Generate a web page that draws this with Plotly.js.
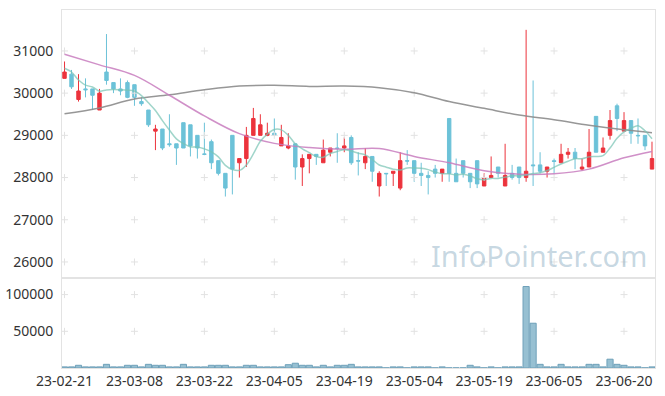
<!DOCTYPE html>
<html>
<head>
<meta charset="utf-8">
<script src="https://cdn.plot.ly/plotly-3.0.1.min.js"></script>
<style>
html,body{margin:0;padding:0;background:#fff;}
#chart{width:665px;height:396px;}
</style>
</head>
<body>
<div id="chart"></div>
<script>
const dates = ['23-02-21','23-02-22','23-02-23','23-02-24','23-02-27','23-02-28','23-03-02','23-03-03','23-03-06','23-03-07',
'23-03-08','23-03-09','23-03-10','23-03-13','23-03-14','23-03-15','23-03-16','23-03-17','23-03-20','23-03-21',
'23-03-22','23-03-23','23-03-24','23-03-27','23-03-28','23-03-29','23-03-30','23-03-31','23-04-03','23-04-04',
'23-04-05','23-04-06','23-04-07','23-04-10','23-04-11','23-04-12','23-04-13','23-04-14','23-04-17','23-04-18',
'23-04-19','23-04-20','23-04-21','23-04-24','23-04-25','23-04-26','23-04-27','23-04-28','23-05-02','23-05-03',
'23-05-04','23-05-08','23-05-09','23-05-10','23-05-11','23-05-12','23-05-15','23-05-16','23-05-17','23-05-18',
'23-05-19','23-05-22','23-05-23','23-05-24','23-05-25','23-05-26','23-05-30','23-05-31','23-06-01','23-06-02',
'23-06-05','23-06-07','23-06-08','23-06-09','23-06-12','23-06-13','23-06-14','23-06-15','23-06-16','23-06-19',
'23-06-20','23-06-21','23-06-22','23-06-23','23-06-26'];

const openP = [30350,30450,29850,30100,30100,29600,30500,30250,30100,30250,
30200,29800,29600,29100,29150,28800,28800,29300,29250,29000,
28560,28850,28400,28100,29000,28350,28450,29000,29000,29000,
29050,28750,28700,28800,28250,28450,28550,28350,28600,28700,
28700,28950,28400,28350,28500,27800,28100,28100,27750,28400,
28400,28100,28050,28200,28100,29400,28100,28400,28100,28400,
27800,28000,28250,27800,28100,28250,28000,28300,28300,28150,
28400,28350,28550,28600,28200,28250,29450,28600,29000,29700,
29100,29350,29000,29000,28200];

const highP = [30750,30550,30450,30350,30100,30100,31400,30250,30350,30300,
30200,29900,29600,29250,29150,29500,28800,29300,29250,29000,
29300,28900,28400,28100,29000,28450,29200,29650,29500,29300,
29400,29250,29050,28800,28550,28550,28550,28900,28700,29050,
28950,29000,28600,28700,28500,28150,28100,28150,28600,28650,
28400,28350,28150,28300,28200,29400,28450,28400,28100,28400,
28100,28500,28250,28800,28300,28250,31500,30300,28600,28250,
28450,28800,28700,28700,28450,29150,29450,28950,29600,29750,
29550,29350,29400,29000,28850];

const lowP = [30350,30100,29800,29900,29600,29600,30200,30000,29950,29880,
29700,29700,29200,28650,28650,28730,28300,28700,28500,28450,
28530,28200,28050,27550,27600,28000,28250,29000,29000,28980,
29000,28750,28670,27950,27800,28100,28300,28350,28500,28350,
28600,28300,28050,28200,27900,27550,27800,27800,27700,28300,
27900,27800,27600,28000,27900,27900,27900,28000,27750,27750,
27800,28000,28000,27800,27950,27850,27900,27800,28100,28000,
28100,28350,28450,28200,28170,28250,28600,28600,28900,29100,
29100,28800,28800,28650,28200];

const closeP = [30500,30150,30050,30080,29950,30000,30300,30100,30050,29900,
29900,29750,29250,29150,28700,28780,28700,28700,28750,28700,
28550,28350,28100,27750,28200,28450,29000,29400,29250,29050,
29000,28950,28750,28250,28450,28550,28500,28650,28700,28690,
28750,28350,28390,28500,28150,28100,28090,28150,28400,28390,
28100,28050,28000,28100,28200,28100,27900,28100,27900,27850,
28000,28050,28100,28050,28000,28000,28150,28280,28150,28250,
28380,28550,28600,28450,28250,28600,28600,28700,29350,29400,
29350,29050,28990,28750,28450];

const volume = [1500,1500,3700,1500,1500,1500,5000,1500,1500,3700,
3700,1500,5000,3700,3700,1500,1500,5000,1500,1500,
1500,3700,3700,3700,1500,1500,3700,3700,1500,1500,
1500,1500,4500,6500,3700,3700,1500,3700,1500,3700,
3700,5000,1500,1500,1500,1500,200,1500,1500,200,
1500,1500,1500,200,1500,200,200,200,3700,1500,
200,1500,200,1500,1500,1500,111000,61000,5000,1500,
1500,5000,1500,1500,1500,5000,5000,1500,12000,5000,
3700,1500,1500,200,1500];

const ma5 = [30590,30500,30310,30190,30146,30046,30076,30086,30080,30070,
30050,29940,29770,29590,29350,29126,28916,28806,28726,28726,
28680,28610,28490,28290,28190,28170,28300,28560,28860,29030,
29140,29130,29000,28800,28680,28590,28500,28480,28570,28618,
28658,28628,28576,28536,28428,28298,28246,28198,28178,28226,
28226,28218,28188,28128,28090,28090,28060,28080,28040,27970,
27950,27980,27980,28010,28040,28040,28060,28096,28116,28166,
28242,28322,28386,28446,28446,28490,28500,28520,28700,28930,
29080,29170,29228,29108,28918];

const maSampleDates = ['23-02-21','23-02-28','23-03-08','23-03-15','23-03-22','23-03-29','23-04-05','23-04-12','23-04-19',
'23-04-26','23-05-04','23-05-12','23-05-19','23-05-26','23-06-05','23-06-13','23-06-20','23-06-26'];
const ma20 = [30920,30670,30420,29950,29460,29040,28810,28710,28670,28690,28500,28350,28160,28080,28090,28200,28470,28620];
const ma60 = [29510,29650,29860,29960,30080,30170,30185,30160,30170,30130,30010,29800,29640,29480,29370,29240,29130,29060];

const xTickLabels = ['23-02-21','23-03-08','23-03-22','23-04-05','23-04-19','23-05-04','23-05-19','23-06-05','23-06-20'];
const priceTicks = [26000,27000,28000,29000,30000,31000];
const volTicks = [50000,100000];

const RED = '#ec333c', BLUE = '#6cc2d8';
const FONT = 'Noto Sans, sans-serif';

// grid crosses at tick intersections
const gx = [], gy = [], vx = [], vy = [];
xTickLabels.forEach(d => {
  priceTicks.forEach(p => { gx.push(d); gy.push(p); });
  volTicks.forEach(v => { vx.push(d); vy.push(v); });
});

const crossMarker = {symbol: 'cross-thin', size: 5, line: {color: '#e2e2e2', width: 1}};

const traces = [
  {
    type: 'candlestick', x: dates, open: openP, high: highP, low: lowP, close: closeP,
    xaxis: 'x', yaxis: 'y',
    increasing: {line: {color: RED, width: 1}, fillcolor: RED},
    decreasing: {line: {color: BLUE, width: 1}, fillcolor: BLUE},
    whiskerwidth: 0, hoverinfo: 'skip', showlegend: false
  },
  {
    type: 'scatter', mode: 'markers', x: gx, y: gy, xaxis: 'x', yaxis: 'y',
    marker: crossMarker, hoverinfo: 'skip', showlegend: false
  },
  {
    type: 'scatter', mode: 'lines', x: maSampleDates, y: ma60, xaxis: 'x', yaxis: 'y',
    line: {color: 'rgba(140,140,140,0.9)', width: 1.5, shape: 'spline'}, hoverinfo: 'skip', showlegend: false
  },
  {
    type: 'scatter', mode: 'lines', x: maSampleDates, y: ma20, xaxis: 'x', yaxis: 'y',
    line: {color: 'rgba(200,125,190,0.85)', width: 1.5, shape: 'spline'}, hoverinfo: 'skip', showlegend: false
  },
  {
    type: 'scatter', mode: 'lines', x: dates, y: ma5, xaxis: 'x', yaxis: 'y',
    line: {color: 'rgba(120,195,180,0.7)', width: 1.5, shape: 'spline'}, hoverinfo: 'skip', showlegend: false
  },
  {
    type: 'scatter', mode: 'markers', x: vx, y: vy, xaxis: 'x2', yaxis: 'y2',
    marker: crossMarker, hoverinfo: 'skip', showlegend: false
  },
  {
    type: 'bar', x: dates, y: volume, xaxis: 'x2', yaxis: 'y2',
    marker: {color: 'rgba(140,185,205,0.9)', line: {color: 'rgba(110,160,185,1)', width: 1}},
    hoverinfo: 'skip', showlegend: false
  }
];

const xRange = [-0.36, 84.43];
const axisLine = '#e3e3e3';
const TICKFONT = {family: FONT, size: 14, color: '#333'};
const layout = {
  width: 665, height: 396,
  margin: {l: 61.5, r: 10, t: 10, b: 28},
  paper_bgcolor: '#fff', plot_bgcolor: '#fff',
  showlegend: false,
  bargap: 0.12,
  font: {family: FONT, size: 14, color: '#333'},
  xaxis: {
    type: 'category', categoryorder: 'array', categoryarray: dates,
    range: xRange, anchor: 'y', showticklabels: false, ticks: '',
    showgrid: false, zeroline: false, showline: true, mirror: true, linecolor: axisLine, linewidth: 1,
    rangeslider: {visible: false}, fixedrange: true
  },
  xaxis2: {
    type: 'category', categoryorder: 'array', categoryarray: dates,
    range: xRange, anchor: 'y2', matches: 'x',
    tickmode: 'array', tickvals: xTickLabels, ticktext: xTickLabels, ticks: '',
    tickfont: TICKFONT,
    showgrid: false, zeroline: false, showline: true, mirror: true, linecolor: axisLine, linewidth: 1
  },
  yaxis: {
    domain: [0.2514, 1], range: [25620, 31970],
    tickmode: 'array', tickvals: priceTicks, ticktext: priceTicks.map(String), ticks: '',
    ticklabelstandoff: 5,
    tickfont: TICKFONT,
    showgrid: false, zeroline: false, showline: true, mirror: true, linecolor: axisLine, linewidth: 1
  },
  yaxis2: {
    domain: [0, 0.2514], range: [0, 122600],
    tickmode: 'array', tickvals: volTicks, ticktext: volTicks.map(String), ticks: '',
    ticklabelstandoff: 5,
    tickfont: TICKFONT,
    showgrid: false, zeroline: false, showline: true, mirror: true, linecolor: axisLine, linewidth: 1
  },
  annotations: [{
    text: 'InfoPointer.com', xref: 'paper', yref: 'paper', x: 0.805, y: 0.313,
    xanchor: 'center', yanchor: 'middle', showarrow: false,
    font: {family: FONT, size: 29, color: 'rgba(120,160,185,0.42)'}
  }]
};

Plotly.newPlot('chart', traces, layout, {staticPlot: true, displayModeBar: false});
</script>
</body>
</html>
